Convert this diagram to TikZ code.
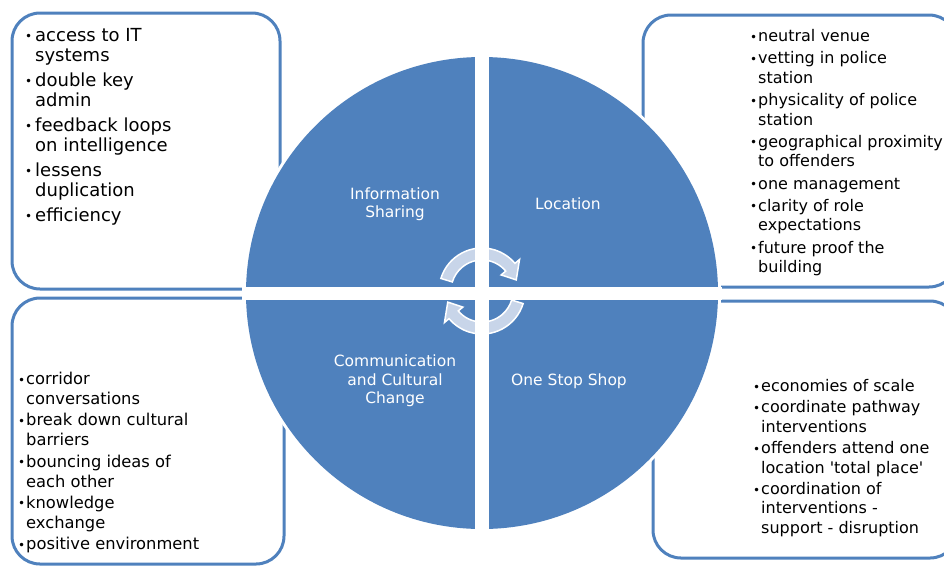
\documentclass[tikz,border=0pt]{standalone}
\usepackage{fontspec}
\setmainfont{DejaVu Sans}[Ligatures=TeXOff]
\usetikzlibrary{calc}
\definecolor{qblue}{RGB}{79,129,189}
\definecolor{arrfill}{RGB}{200,213,233}
\newcommand{\bl}[1]{\makebox[#1][l]{\raisebox{0.4pt}{\fontsize{12}{12}\selectfont •}}}
\tikzset{
  box/.style={draw=qblue, line width=3pt, fill=white, rounded corners=28pt},
  txt/.style={inner sep=0pt, anchor=base west, align=left, text=black},
  lab/.style={inner sep=0pt, text=white, align=center, font=\fontsize{15.5}{18.5}\selectfont},
  cyc/.style={fill=arrfill, draw=white, line width=1.5pt, line join=miter}
}
\begin{document}
\begin{tikzpicture}[x=1pt,y=-1pt]
\useasboundingbox (0,0) rectangle (944,566);
% boxes
\draw[box] (12,13) rectangle (280,289);
\draw[box] (643,15) rectangle (957,287);
\draw[box] (12,298) rectangle (284,564);
\draw[box] (653,301) rectangle (958,558);
% circle
\coordinate (c) at (482,293);
\fill[white] (c) circle[radius=239];
\fill[qblue] (c) circle[radius=236];
% cycle arrows
\begin{scope}[shift={(482,291)}, y=1pt]
\filldraw[cyc] (163:43) arc[start angle=163, end angle=40, radius=43] -- (40:49) -- (18:36) -- (40:25) -- (40:31) arc[start angle=40, end angle=163, radius=31] -- cycle;
\filldraw[cyc] (-17:43) arc[start angle=-17, end angle=-140, radius=43] -- (-140:49) -- (-162:36) -- (-140:25) -- (-140:31) arc[start angle=-140, end angle=-17, radius=31] -- cycle;
\end{scope}
% white cross
\begin{scope}
\clip (c) circle[radius=240];
\fill[white] (475,40) rectangle (489,545);
\fill[white] (230,287) rectangle (735,300);
\end{scope}
% quadrant labels
\node[lab] (q1) at (395,204) {Information\\Sharing};
\node[lab] (q2) at (568,204) {Location};
\node[lab] (q3) at (395,381) {Communication\\and Cultural\\Change};
\node[lab] (q4) at (569,381) {One Stop Shop};
% texts
\node[txt, font=\fontsize{18}{20}\selectfont] (t1) at (25,41) {\begin{tabular}[t]{@{}l@{}l@{}}
\bl{10pt} & access to IT\\ & systems\\[5pt]
\bl{10pt} & double key\\ & admin\\[5pt]
\bl{10pt} & feedback loops\\ & on intelligence\\[5pt]
\bl{10pt} & lessens\\ & duplication\\[5pt]
\bl{10pt} & efficiency
\end{tabular}};
\node[txt, font=\fontsize{16}{19.5}\selectfont] (t2) at (750,41.5) {\begin{tabular}[t]{@{}l@{}l@{}}
\bl{8pt} & neutral venue\\[2.75pt]
\bl{8pt} & vetting in police\\ & station\\[2.75pt]
\bl{8pt} & physicality of police\\ & station\\[2.75pt]
\bl{8pt} & geographical proximity\\ & to offenders\\[2.75pt]
\bl{8pt} & one management\\[2.75pt]
\bl{8pt} & clarity of role\\ & expectations\\[2.75pt]
\bl{8pt} & future proof the\\ & building
\end{tabular}};
\node[txt, font=\fontsize{16.3}{20}\selectfont] (t3) at (18,384.5) {\begin{tabular}[t]{@{}l@{}l@{}}
\bl{8pt} & corridor\\ & conversations\\[1.25pt]
\bl{8pt} & break down cultural\\ & barriers\\[1.25pt]
\bl{8pt} & bouncing ideas of\\ & each other\\[1.25pt]
\bl{8pt} & knowledge\\ & exchange\\[1.25pt]
\bl{8pt} & positive environment
\end{tabular}};
\node[txt, font=\fontsize{16}{19.5}\selectfont] (t4) at (753,391.5) {\begin{tabular}[t]{@{}l@{}l@{}}
\bl{8pt} & economies of scale\\[1.8pt]
\bl{8pt} & coordinate pathway\\ & interventions\\[1.8pt]
\bl{8pt} & offenders attend one\\ & location 'total place'\\[1.8pt]
\bl{8pt} & coordination of\\ & interventions -\\ & support - disruption
\end{tabular}};
\end{tikzpicture}
\end{document}
